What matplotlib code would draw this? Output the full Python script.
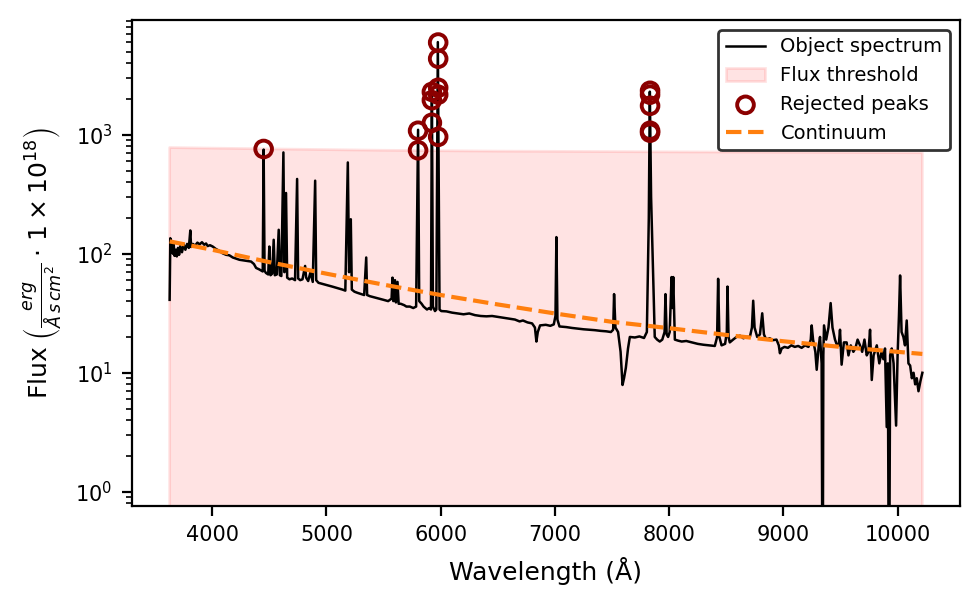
import matplotlib
matplotlib.use("Agg")
import matplotlib.pyplot as plt

# ---- Data: (wavelength [A], flux) ----
spec_blue = [(3627, 41), (3633, 135), (3640, 112), (3648, 128), (3655, 100), (3662, 122),
             (3670, 96), (3680, 108), (3690, 95), (3700, 112), (3710, 98), (3720, 116),
             (3735, 103), (3750, 120), (3765, 108), (3780, 121), (3795, 112), (3808, 157),
             (3815, 114), (3830, 121), (3850, 117), (3870, 124), (3890, 120), (3910, 125),
             (3930, 119), (3946, 122), (3960, 116), (3980, 118), (4004, 115), (4030, 110),
             (4060, 106), (4090, 101), (4121, 98), (4150, 97), (4180, 93), (4210, 91),
             (4238, 89), (4270, 88), (4300, 87), (4340, 86), (4365, 82), (4384, 76),
             (4410, 74), (4442, 71), (4450, 750), (4458, 72), (4470, 69), (4490, 67),
             (4500, 115), (4510, 66), (4525, 68), (4538, 131), (4548, 66), (4565, 67),
             (4582, 159), (4592, 66), (4605, 65), (4623, 710), (4632, 70), (4646, 324),
             (4656, 63), (4676, 61)]
spec_green = [(4700, 62), (4725, 60), (4743, 425), (4752, 62), (4770, 60), (4790, 61),
              (4813, 79), (4822, 63), (4840, 59), (4860, 70), (4880, 58), (4901, 411),
              (4910, 60), (4930, 57), (4960, 56), (4990, 55), (5020, 54), (5050, 53),
              (5080, 52), (5110, 51), (5140, 50), (5165, 49), (5187, 585), (5198, 70),
              (5213, 195), (5222, 50), (5245, 48), (5270, 47), (5300, 46), (5330, 45),
              (5348, 93), (5356, 45), (5380, 44), (5420, 43), (5460, 42), (5500, 41),
              (5540, 40), (5570, 42), (5578, 63), (5585, 40), (5600, 60), (5608, 39),
              (5622, 58), (5632, 38), (5650, 38), (5680, 37), (5700, 36), (5730, 36),
              (5760, 35), (5785, 36), (5802, 1100), (5812, 40), (5833, 38), (5850, 36),
              (5880, 34), (5900, 35), (5915, 34), (5923, 2300), (5932, 36), (5950, 33),
              (5962, 34), (5975, 6000), (5990, 34), (6005, 33)]
spec_red = [(6050, 32.8), (6100, 32), (6150, 31.5), (6200, 31), (6250, 31.5), (6300, 30.5),
            (6350, 30), (6400, 29.8), (6450, 30), (6500, 29.5), (6550, 29), (6600, 28.5),
            (6650, 28), (6691, 27), (6720, 27.5), (6760, 26.5), (6800, 26), (6825, 24),
            (6838, 18.3), (6850, 22), (6870, 25), (6920, 25.3), (6960, 24.8), (6990, 25.5),
            (7005, 30), (7013, 138), (7022, 28), (7040, 24.5), (7100, 24.2), (7150, 23.8),
            (7200, 23.5), (7250, 23.2), (7300, 23), (7350, 22.8), (7400, 22.5), (7450, 22.3),
            (7490, 22), (7510, 23), (7518, 45.8), (7530, 24), (7553, 22), (7575, 15),
            (7592, 7.9), (7605, 9), (7621, 11), (7640, 16), (7656, 20), (7700, 19.8),
            (7740, 20.2), (7780, 19.6), (7805, 22), (7822, 200), (7831, 2300), (7842, 300),
            (7854, 105), (7866, 40), (7874, 20), (7895, 19), (7918, 18.3), (7940, 19),
            (7960, 22), (7968, 45.8), (7978, 21), (7991, 20), (8005, 22), (8021, 63.7),
            (8028, 35), (8036, 63.7), (8050, 19)]
spec_nir = [(8080, 18.6), (8110, 18.3), (8150, 18.5), (8200, 18), (8250, 17.5), (8300, 17.2),
            (8350, 17), (8400, 16.8), (8420, 20), (8429, 61.6), (8440, 20), (8459, 17),
            (8490, 17.5), (8505, 22), (8511, 53), (8520, 20), (8531, 18), (8560, 19),
            (8590, 20), (8620, 20.5), (8650, 19.5), (8680, 20), (8707, 20), (8725, 24),
            (8736, 40.3), (8748, 24), (8771, 20), (8795, 21), (8815, 31.6), (8830, 21),
            (8850, 19), (8880, 19.5), (8910, 18.8), (8940, 19), (8960, 17), (8970, 14.6),
            (8985, 16), (9010, 16.5), (9040, 16.2), (9070, 17), (9100, 16.5), (9130, 16.8),
            (9160, 16.2), (9190, 17), (9220, 16.5), (9240, 19), (9248, 25), (9260, 19),
            (9280, 15), (9292, 10.6), (9310, 17), (9321, 20), (9335, 12), (9344, 0.05),
            (9350, 14), (9356, 25), (9375, 19), (9395, 24), (9414, 38.5), (9430, 24),
            (9452, 19), (9470, 17), (9485, 17), (9496, 23), (9510, 11.7), (9530, 18),
            (9554, 18), (9570, 14), (9590, 17), (9613, 15), (9630, 16), (9650, 19),
            (9671, 17), (9690, 15), (9710, 19), (9730, 14), (9745, 15), (9759, 23),
            (9774, 8.7), (9790, 14), (9818, 17), (9840, 12), (9860, 15), (9876, 13),
            (9890, 16), (9905, 3.5), (9915, 12), (9925, 0.05), (9935, 14), (9949, 16),
            (9965, 12), (9987, 3.6), (10000, 14), (10012, 30), (10022, 65.7), (10035, 22),
            (10051, 20), (10065, 17), (10080, 27.5), (10095, 12), (10110, 11.5), (10125, 9),
            (10140, 10), (10154, 8), (10168, 9), (10183, 7), (10200, 8.5), (10217, 10)]

cont_wave = [3627, 4000, 4500, 5000, 5500, 6000, 6500, 7000, 7500, 8000, 8500, 9000,
             9500, 10000, 10217]
cont_flux = [127, 108, 85, 68, 55, 45, 37.5, 31.5, 26.8, 23.7, 20.8, 18.4, 16.5, 15.0,
             14.4]

thr_wave = [3627, 4500, 5500, 6500, 8000, 10217]
thr_flux = [780, 760, 740, 728, 718, 706]

peak_wave = [4450, 5802, 5802, 5923, 5923, 5923, 5978, 5978, 5978, 5978, 5978,
             7833, 7833, 7833, 7833, 7833]
peak_flux = [759, 1080, 740, 2290, 1950, 1260, 5950, 4350, 2480, 2170, 960,
             2340, 2170, 1750, 1080, 1040]

spectrum = spec_blue + spec_green + spec_red + spec_nir
wave = [p[0] for p in spectrum]
flux = [p[1] for p in spectrum]

# ---- Plot ----
fig = plt.figure(figsize=(979 / 200, 610 / 200), dpi=200)
ax = fig.add_axes([132 / 979, 1 - 506 / 610, (960 - 132) / 979, (506 - 20) / 610])

h_spec, = ax.plot(wave, flux, color="black", lw=0.9, label="Object spectrum")
h_thr = ax.fill_between(thr_wave, 1e-3, thr_flux, color="red", alpha=0.11, lw=1,
                        label="Flux threshold")
h_peaks = ax.scatter(peak_wave, peak_flux, facecolors="none", edgecolors="#8b0000",
                     s=36, lw=1.4, label="Rejected peaks", zorder=3)
h_cont, = ax.plot(cont_wave, cont_flux, color="#ff7f0e", ls="--", lw=1.5,
                  label="Continuum")

ax.set_yscale("log")
ax.set_ylim(0.76, 9200)
ax.set_xlim(3627 - 0.05 * (10217 - 3627), 10217 + 0.05 * (10217 - 3627))
ax.set_xticks([4000, 5000, 6000, 7000, 8000, 9000, 10000])
ax.tick_params(labelsize=7.5)

ax.set_xlabel("Wavelength (Å)", fontsize=9)
ax.set_ylabel(r"Flux $\left(\frac{erg}{\AA\,s\,cm^2}\cdot\,1\times10^{18}\right)$",
              fontsize=9)

leg = ax.legend(handles=[h_spec, h_thr, h_peaks, h_cont], loc="upper right",
                fontsize=7, framealpha=1, edgecolor="0.2", fancybox=True)
leg.get_frame().set_linewidth(1.0)

fig.savefig("out.png", dpi=200)
